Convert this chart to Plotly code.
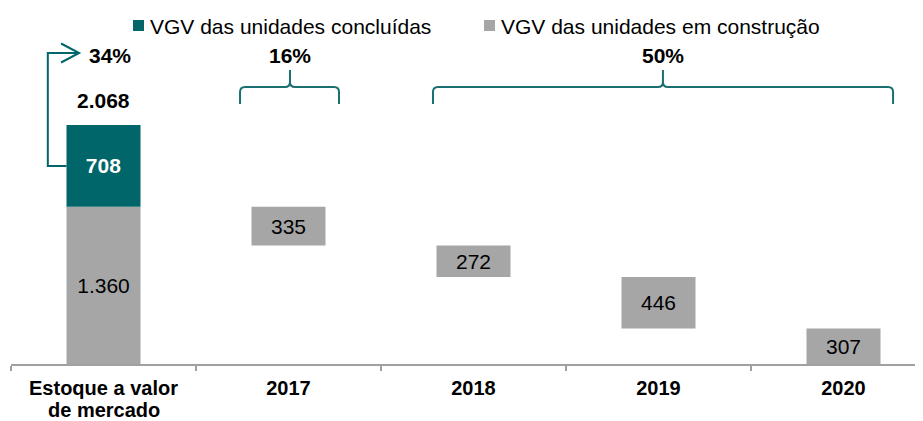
import plotly.graph_objects as go

# ---------------- data ----------------
categorias = ["Estoque a valor<br>de mercado", "2017", "2018", "2019", "2020"]
vgv_construcao = 1360          # VGV das unidades em construção (estoque)
vgv_concluidas = 708           # VGV das unidades concluídas (estoque)
vgv_total = 2068               # total do estoque
vgv_anual = [335, 272, 446, 307]   # liberação anual do VGV em construção
percentuais = ["34%", "16%", "50%"]
legenda = ["VGV das unidades concluídas", "VGV das unidades em construção"]

# ---------------- style / layout ----------------
TEAL = "#00666A"
GRAY = "#A6A6A6"
BRACE = "#1A6F70"
AXIS = "#A0A0A0"
FONT = "Liberation Sans, Arial, sans-serif"
PAGE = 8                     # default body margin of the html page
W, H = 923 - PAGE, 421 - PAGE
ML, MB = 11 - PAGE, 57
PW, PH = W - ML, H - MB
BASE_REF = 364               # screen y of the baseline
Y_MAX = 3080
U_Y = Y_MAX / PH             # data units per pixel (vertical)
U_X = 1 / 185                # category units per pixel (horizontal)


def fmt(v):
    return f"{v:,}".replace(",", ".")


def px_x(px):
    return (px - PAGE - ML) / PW


def px_y(py):
    return (PH - (py - PAGE)) / PH


def val_y(py):
    return (BASE_REF - py) * U_Y


xs = list(range(len(categorias)))
restante = []
r = vgv_construcao
for v in vgv_anual:
    r -= v
    restante.append(r)
gray_base = [0] + restante
gray_vals = [vgv_construcao] + vgv_anual

fig = go.Figure()
fig.add_bar(
    x=xs, y=gray_vals, base=gray_base, width=0.4,
    marker=dict(color=GRAY, line_width=0),
    text=[fmt(v) for v in gray_vals], textposition="inside",
    insidetextanchor="middle", textangle=0, constraintext="none",
    textfont=dict(family=FONT, size=21, color="black"),
    hoverinfo="skip", name=legenda[1],
)
fig.add_bar(
    x=[0], y=[vgv_concluidas], base=[vgv_construcao], width=0.4,
    marker=dict(color=TEAL, line_width=0),
    text=[f"<b>{vgv_concluidas}</b>"], textposition="inside",
    insidetextanchor="middle", textangle=0, constraintext="none",
    textfont=dict(family=FONT, size=21, color="white"),
    hoverinfo="skip", name=legenda[0],
)

shapes = []
annotations = []

# total label
annotations.append(dict(x=0, y=vgv_total, xref="x", yref="y", text=f"<b>{fmt(vgv_total)}</b>",
                        showarrow=False, yanchor="bottom", yshift=11,
                        font=dict(family=FONT, size=21, color="black")))


# braces
def brace(x0, x1, xc, yb, yh, yt, rx, ry):
    return (f"M {x0},{yb} L {x0},{yh - ry} Q {x0},{yh} {x0 + rx},{yh} "
            f"L {xc - rx},{yh} Q {xc},{yh} {xc},{yh + ry} L {xc},{yt} "
            f"M {xc},{yh + ry} Q {xc},{yh} {xc + rx},{yh} "
            f"L {x1 - rx},{yh} Q {x1},{yh} {x1},{yh - ry}  L {x1},{yb}")


yb, yh, yt = val_y(104), val_y(87), val_y(70)
rx, ry = 5 * U_X, 5 * U_Y
shapes.append(dict(type="path", xref="x", yref="y",
                   path=brace(0.738, 1.273, 1.008, yb, yh, yt, rx, ry),
                   line=dict(color=BRACE, width=2)))
shapes.append(dict(type="path", xref="x", yref="y",
                   path=brace(1.781, 4.268, 3.024, yb, yh, yt, rx, ry),
                   line=dict(color=BRACE, width=2)))

# arrow for 34%
mid_teal = vgv_construcao + vgv_concluidas / 2
ya = val_y(53)
xl, xt = -0.301, -0.132
shapes.append(dict(type="path", xref="x", yref="y",
                   path=f"M -0.2,{mid_teal} L {xl},{mid_teal} L {xl},{ya} L {xt},{ya}",
                   line=dict(color=TEAL, width=2)))
shapes.append(dict(type="path", xref="x", yref="y",
                   path=f"M {xt - 18 * U_X},{ya + 9.5 * U_Y} L {xt},{ya} "
                        f"L {xt - 18 * U_X},{ya - 9.5 * U_Y}",
                   line=dict(color=TEAL, width=2)))

# percent labels
yp = val_y(55)
for xp, t in zip([0.035, 1.008, 3.024], percentuais):
    annotations.append(dict(x=xp, y=yp, xref="x", yref="y", text=f"<b>{t}</b>",
                            showarrow=False, yanchor="middle",
                            font=dict(family=FONT, size=21, color="black")))

# legend (manual)
for (sx, tx), color, label in zip([(133, 148), (484, 499)], [TEAL, GRAY], legenda):
    shapes.append(dict(type="rect", xref="paper", yref="paper",
                       x0=px_x(sx), x1=px_x(sx + 11), y0=px_y(31), y1=px_y(20),
                       fillcolor=color, line_width=0))
    annotations.append(dict(x=px_x(tx), y=px_y(26), xref="paper", yref="paper",
                            text=label, showarrow=False, xanchor="left", yanchor="middle",
                            font=dict(family=FONT, size=21, color="black")))

# category labels: first line as tick label, extra lines as tight annotations
first_lines = [c.split("<br>")[0] for c in categorias]
for i, c in enumerate(categorias):
    for k, line in enumerate(c.split("<br>")[1:]):
        annotations.append(dict(x=i, y=px_y(410 + 23 * k), xref="x", yref="paper",
                                text=f"<b>{line}</b>", showarrow=False, yanchor="middle",
                                font=dict(family=FONT, size=20, color="black")))

fig.update_layout(
    width=W, height=H,
    margin=dict(l=ML, r=0, t=0, b=MB, autoexpand=False),
    paper_bgcolor="white", plot_bgcolor="white",
    barmode="overlay", showlegend=False,
    xaxis=dict(
        range=[-0.5, -0.5 + PW / 185], tickmode="array", tickvals=xs,
        ticktext=[f"<b>{t}</b>" for t in first_lines], automargin=False,
        ticks="", showline=True, linecolor=AXIS, linewidth=2,
        showgrid=False, zeroline=False, ticklabelstandoff=5,
        tickfont=dict(family=FONT, size=20, color="black"),
        minor=dict(tickmode="array", tickvals=[i - 0.5 for i in xs], ticks="outside",
                   ticklen=5, tickcolor=AXIS, tickwidth=1.5, showgrid=False),
    ),
    yaxis=dict(range=[0, Y_MAX], visible=False, automargin=False),
    shapes=shapes, annotations=annotations,
)

fig.write_html("out.html")
